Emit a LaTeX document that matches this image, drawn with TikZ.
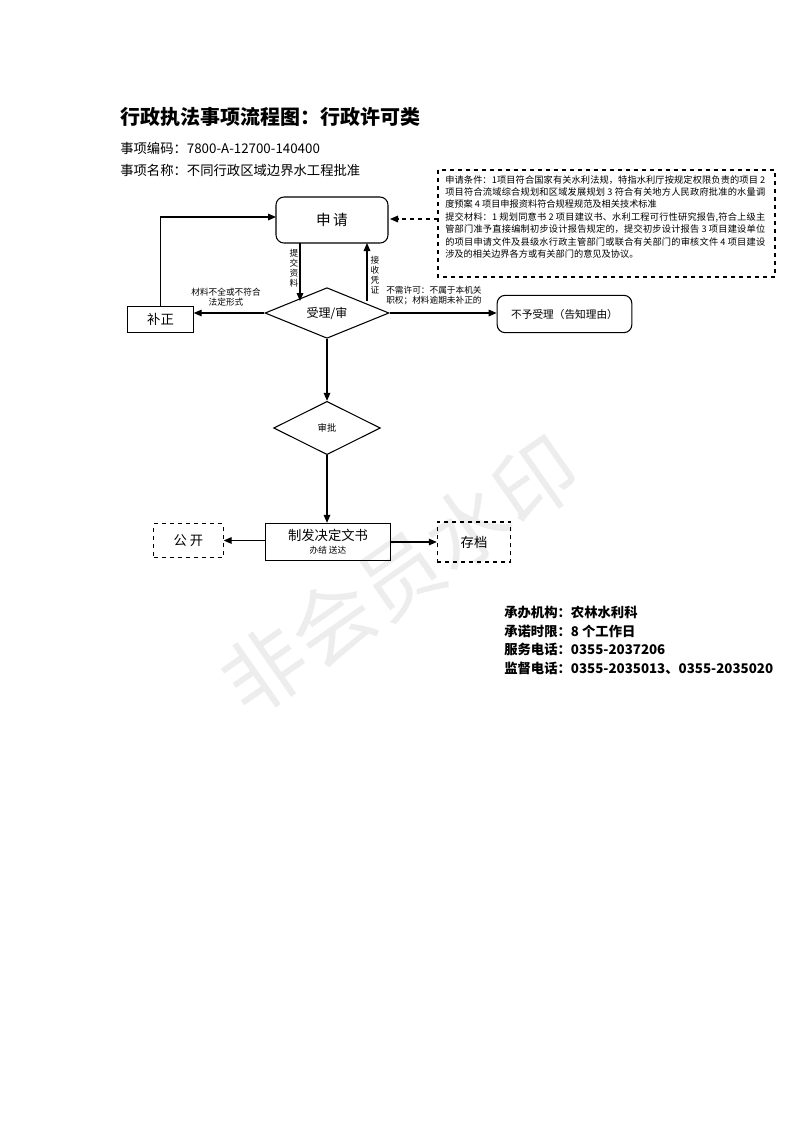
\documentclass[tikz,border=0pt]{standalone}
\usepackage{fontspec}
\setmainfont{Noto Sans CJK SC}
\XeTeXlinebreaklocale "zh"
\XeTeXlinebreakskip=0pt plus 1pt
\usetikzlibrary{shapes.geometric,arrows.meta}
\begin{document}
\begin{tikzpicture}[x=0.75pt,y=-0.75pt,
  every node/.style={inner sep=0pt},
  box/.style={draw,thick},
  dbox/.style={draw,thick,dashed},
  dia/.style={draw,thick,diamond,aspect=2.4},
  arr/.style={thick,-{Triangle[length=6pt,width=5pt]}},
  small/.style={font=\fontsize{6.5}{7.5}\selectfont},
  info/.style={font=\fontsize{10}{13}\selectfont,anchor=west}]
\useasboundingbox (0,0) rectangle (793,1122);
\node[rotate=35,text=black!7,font=\fontsize{62}{62}\selectfont] (wm) at (400,575) {非会员水印};
\node[anchor=west,font=\bfseries\fontsize{15}{18}\selectfont] (title) at (120,117) {行政执法事项流程图：行政许可类};
\node[info] (code) at (120,148) {事项编码：7800-A-12700-140400};
\node[info] (name) at (120,170) {事项名称：不同行政区域边界水工程批准};
\draw[box,rounded corners=6pt] (276,197) rectangle (388,243);
\node (sq) at (332,220) {\fontsize{11}{12}\selectfont 申\,请};
\coordinate (sqb1) at (300,243); \coordinate (sqb2) at (367,243);
\draw[dbox] (438,170) rectangle (775,277);
\node[anchor=north west] (cond) at (445,175) {\parbox[t]{240pt}{\fontsize{6.9}{9.3}\selectfont 申请条件：1项目符合国家有关水利法规，特指水利厅按规定权限负责的项目 2 项目符合流域综合规划和区域发展规划 3 符合有关地方人民政府批准的水量调度预案 4 项目申报资料符合规程规范及相关技术标准\par 提交材料：1 规划同意书 2 项目建议书、水利工程可行性研究报告,符合上级主管部门准予直接编制初步设计报告规定的，提交初步设计报告 3 项目建设单位的项目申请文件及县级水行政主管部门或联合有关部门的审核文件 4 项目建设涉及的相关边界各方或有关部门的意见及协议。}};
\coordinate (cl) at (438,219); \coordinate (sqr) at (390,219);
\draw[arr,dashed] (cl) -- (sqr);
\node[box,minimum width=49pt,minimum height=19pt] (bz) at (160.5,319.5) {\fontsize{10}{11}\selectfont 补正};
\node[dia,minimum width=93pt,minimum height=38pt] (sl) at (327,313) {\fontsize{9}{10}\selectfont 受理/审};
\node[box,rounded corners=6pt,minimum width=101pt,minimum height=28pt] (byl) at (564.5,314) {\fontsize{8}{9}\selectfont 不予受理（告知理由）};
\coordinate (slt1) at (300,301); \coordinate (slt2) at (367,301);
\draw[arr] (sqb1) -- (slt1);
\draw[arr] (slt2) -- (sqb2);
\node[small,align=center] (l1) at (294,268) {提\\交\\资\\料};
\node[small,align=center] (l2) at (375,275) {接\\收\\凭\\证};
\draw[arr] (sl.west) -- (sl.west -| bz.east);
\node[small,align=center] (l3) at (226,297) {材料不全或不符合\\法定形式};
\draw[arr] (bz.north) |- (276,217);
\draw[arr] (sl.east) -- (sl.east -| byl.west);
\node[small,align=left,anchor=west] (l4) at (386,296) {不需许可：不属于本机关\\职权；材料逾期未补正的};
\node[dia,minimum width=80pt,minimum height=40pt] (sp) at (327,428) {\fontsize{7}{8}\selectfont 审批};
\draw[arr] (sl.south) -- (sp.north);
\node[box,minimum width=94pt,minimum height=28pt] (zf) at (328,542) {};
\node (zft) at (328,535) {\fontsize{10}{11}\selectfont 制发决定文书};
\node[small] (bj) at (328,550) {办结\ 送达};
\draw[arr] (sp.south) -- (zf.north -| sp.south);
\node[dbox,minimum width=52pt,minimum height=25pt] (gk) at (188.5,540.5) {\fontsize{10}{11}\selectfont 公\ 开};
\node[dbox,minimum width=55pt,minimum height=30pt] (cd) at (474,542) {\fontsize{10}{11}\selectfont 存档};
\draw[arr] (zf.west |- gk.east) -- (gk.east);
\draw[arr] (zf.east) -- (cd.west);
\node[info,font=\bfseries\fontsize{10}{13}\selectfont] (o1) at (504,612) {承办机构：农林水利科};
\node[info,font=\bfseries\fontsize{10}{13}\selectfont] (o2) at (504,631) {承诺时限：8 个工作日};
\node[info,font=\bfseries\fontsize{10}{13}\selectfont] (o3) at (504,649) {服务电话：0355-2037206};
\node[info,font=\bfseries\fontsize{10}{13}\selectfont] (o4) at (504,668) {监督电话：0355-2035013、0355-2035020};
\end{tikzpicture}
\end{document}
